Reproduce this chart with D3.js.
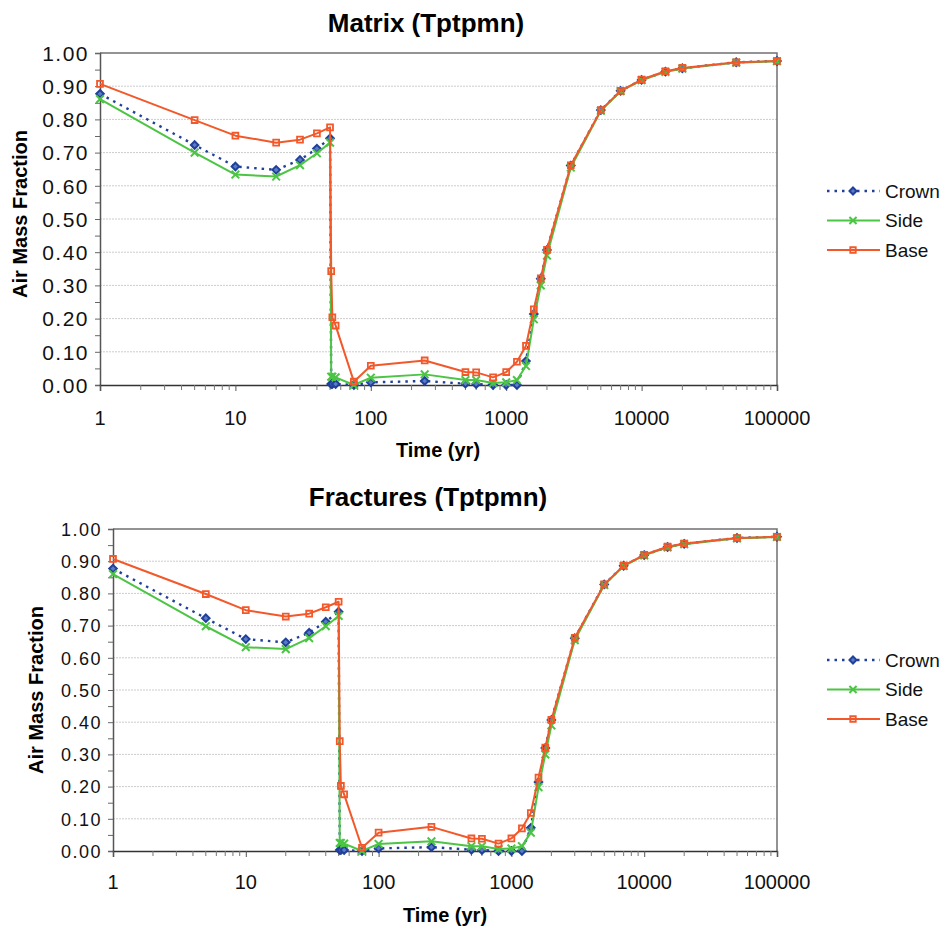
<!DOCTYPE html>
<html>
<head>
<meta charset="utf-8">
<script src="https://cdn.jsdelivr.net/npm/d3@7"></script>
<style>
  html, body { margin: 0; padding: 0; background: #fff; }
  svg { display: block; font-family: "Liberation Sans", Arial, Helvetica, sans-serif; }
</style>
</head>
<body>
<svg id="chart" width="952" height="933"></svg>
<script>
// Simulation output times (yr)
const times = [1, 5, 10, 20, 30, 40, 50, 51, 52, 55, 75, 100, 250, 500, 600, 800, 1000,
  1200, 1400, 1600, 1800, 2000, 3000, 5000, 7000, 10000, 15000, 20000, 50000, 100000];

// Air mass fraction in the matrix
const matrixCrown = [0.877, 0.723, 0.658, 0.648, 0.678, 0.712, 0.743, 0.003, 0.003, 0.003, 0.000, 0.008, 0.012,
  0.004, 0.003, 0.000, 0.000, 0.000, 0.072, 0.214, 0.320, 0.407, 0.661, 0.828, 0.886, 0.919, 0.944, 0.954, 0.972, 0.976];
const matrixSide = [0.861, 0.700, 0.634, 0.628, 0.662, 0.698, 0.730, 0.025, 0.025, 0.023, 0.000, 0.022, 0.032,
  0.015, 0.015, 0.006, 0.008, 0.015, 0.057, 0.198, 0.300, 0.390, 0.655, 0.826, 0.885, 0.918, 0.943, 0.953, 0.971, 0.975];
const matrixBase = [0.907, 0.798, 0.751, 0.730, 0.739, 0.758, 0.776, 0.343, 0.204, 0.179, 0.010, 0.058, 0.074,
  0.039, 0.038, 0.023, 0.039, 0.070, 0.118, 0.228, 0.321, 0.407, 0.662, 0.828, 0.886, 0.920, 0.945, 0.955, 0.972, 0.976];

// Air mass fraction in the fractures
const fractureCrown = [0.877, 0.723, 0.658, 0.648, 0.678, 0.712, 0.743, 0.003, 0.003, 0.003, 0.000, 0.008, 0.012,
  0.004, 0.003, 0.000, 0.000, 0.000, 0.072, 0.214, 0.320, 0.407, 0.661, 0.828, 0.886, 0.919, 0.944, 0.954, 0.972, 0.976];
const fractureSide = [0.860, 0.698, 0.633, 0.627, 0.661, 0.698, 0.730, 0.025, 0.025, 0.023, 0.000, 0.022, 0.030,
  0.015, 0.015, 0.006, 0.008, 0.015, 0.057, 0.198, 0.300, 0.390, 0.655, 0.826, 0.885, 0.918, 0.943, 0.953, 0.971, 0.975];
const fractureBase = [0.907, 0.798, 0.748, 0.728, 0.737, 0.757, 0.774, 0.341, 0.202, 0.176, 0.010, 0.057, 0.075,
  0.039, 0.038, 0.023, 0.039, 0.070, 0.118, 0.228, 0.321, 0.407, 0.662, 0.828, 0.886, 0.920, 0.945, 0.955, 0.972, 0.976];

const seriesNames = ["Crown", "Side", "Base"];
const yTicks = [0, 0.1, 0.2, 0.3, 0.4, 0.5, 0.6, 0.7, 0.8, 0.9, 1.0];
const xTicks = [1, 10, 100, 1000, 10000, 100000];
const xTickLabels = ["1", "10", "100", "1000", "10000", "100000"];
const xTitle = "Time (yr)";
const yTitle = "Air Mass Fraction";

const styles = {
  Crown: { color: "#20409a", dash: "2.5,5", width: 2.4 },
  Side:  { color: "#4cc444", dash: null, width: 2 },
  Base:  { color: "#f2582a", dash: null, width: 2 }
};

const panels = [
  { title: "Matrix (Tptpmn)", values: [matrixCrown, matrixSide, matrixBase],
    left: 100, right: 777, top: 53, bottom: 385, titleX: 426, titleY: 32,
    yFont: 21, xLabelY: 425, xTitleX: 438, xTitleY: 457, yTitleX: 27, yTitleY: 214, legendY: 191 },
  { title: "Fractures (Tptpmn)", values: [fractureCrown, fractureSide, fractureBase],
    left: 113, right: 777, top: 529, bottom: 851, titleX: 428, titleY: 506,
    yFont: 18, xLabelY: 889, xTitleX: 445, xTitleY: 922, yTitleX: 43, yTitleY: 690, legendY: 660 }
];

const svg = d3.select("#chart");

function drawMarker(g, name, x, y, size) {
  const st = styles[name];
  if (name === "Crown") {
    g.append("path")
      .attr("d", d3.symbol().type(d3.symbolDiamond2).size(size * 4.5)())
      .attr("transform", `translate(${x},${y})`)
      .attr("fill", "#5a7cc8").attr("stroke", st.color).attr("stroke-width", 2);
  } else if (name === "Side") {
    g.append("path")
      .attr("d", d3.symbol().type(d3.symbolTimes).size(size * 5)())
      .attr("transform", `translate(${x},${y})`)
      .attr("fill", "none").attr("stroke", st.color).attr("stroke-width", 2);
  } else {
    g.append("path")
      .attr("d", d3.symbol().type(d3.symbolSquare2).size(size * 5.5)())
      .attr("transform", `translate(${x},${y})`)
      .attr("fill", "none").attr("stroke", st.color).attr("stroke-width", 1.8);
  }
}

panels.forEach(p => {
  const x = d3.scaleLog().domain([1, 100000]).range([p.left, p.right]);
  const y = d3.scaleLinear().domain([0, 1]).range([p.bottom, p.top]);
  const g = svg.append("g");

  // title
  g.append("text").attr("x", p.titleX).attr("y", p.titleY)
    .attr("text-anchor", "middle").attr("font-size", 26).attr("font-weight", "bold")
    .text(p.title);

  // horizontal gridlines
  g.append("g").selectAll("line").data(yTicks.slice(1, -1)).join("line")
    .attr("x1", p.left).attr("x2", p.right)
    .attr("y1", d => y(d)).attr("y2", d => y(d))
    .attr("stroke", "#cccccc").attr("stroke-width", 1).attr("stroke-dasharray", "2,1");

  // plot frame (top and right)
  g.append("path")
    .attr("d", `M${p.left},${p.top}H${p.right}V${p.bottom}`)
    .attr("fill", "none").attr("stroke", "#707070").attr("stroke-width", 1.5);

  // y axis
  const yAxis = d3.axisLeft(y)
    .tickValues(d3.range(0, 1.0001, 0.05))
    .tickSize(5).tickPadding(6)
    .tickFormat(d => (Math.round(d * 100) % 10 === 0) ? d3.format(".2f")(d) : "");
  const ya = g.append("g").attr("transform", `translate(${p.left},0)`).call(yAxis);
  ya.select(".domain").attr("stroke", "#555").attr("stroke-width", 1.5);
  ya.selectAll(".tick line").attr("stroke", "#666");
  ya.selectAll(".tick text")
    .attr("font-size", p.yFont).attr("fill", "#111")
    .attr("letter-spacing", "1.5px")
    .attr("font-family", "\"Liberation Sans\", Arial, sans-serif")
    .attr("dy", "0.35em");

  // x axis: decade ticks plus minor ticks
  const minor = [];
  for (let e = 0; e < 5; e++) for (let k = 2; k <= 9; k++) minor.push(k * Math.pow(10, e));
  const xAxis = d3.axisBottom(x).tickValues(xTicks).tickSize(6).tickFormat("");
  const xa = g.append("g").attr("transform", `translate(0,${p.bottom})`).call(xAxis);
  xa.select(".domain").attr("stroke", "#333").attr("stroke-width", 1.5);
  xa.selectAll(".tick line").attr("stroke", "#555");
  g.append("g").selectAll("line").data(minor).join("line")
    .attr("x1", d => x(d)).attr("x2", d => x(d))
    .attr("y1", p.bottom).attr("y2", p.bottom + 5)
    .attr("stroke", "#777").attr("stroke-width", 1);

  g.append("g").selectAll("text").data(xTicks).join("text")
    .attr("x", d => x(d)).attr("y", p.xLabelY)
    .attr("text-anchor", "middle").attr("font-size", 20).attr("fill", "#111")
    .text((d, i) => xTickLabels[i]);

  // axis titles
  g.append("text").attr("x", p.xTitleX).attr("y", p.xTitleY)
    .attr("text-anchor", "middle").attr("font-size", 20).attr("font-weight", "bold")
    .text(xTitle);
  g.append("text")
    .attr("transform", `translate(${p.yTitleX},${p.yTitleY}) rotate(-90)`)
    .attr("text-anchor", "middle").attr("font-size", 20).attr("font-weight", "bold")
    .text(yTitle);

  // series
  const line = d3.line().x(d => x(d[0])).y(d => y(d[1]));
  seriesNames.forEach((name, si) => {
    const st = styles[name];
    const pts = times.map((t, i) => [t, p.values[si][i]]);
    const sg = g.append("g");
    sg.append("path").datum(pts).attr("d", line)
      .attr("fill", "none").attr("stroke", st.color).attr("stroke-width", st.width)
      .attr("stroke-dasharray", st.dash).attr("stroke-linejoin", "round");
    pts.forEach(d => drawMarker(sg, name, x(d[0]), y(d[1]), 8));
  });

  // legend
  const lg = g.append("g");
  seriesNames.forEach((name, i) => {
    const st = styles[name];
    const ly = p.legendY + i * 29.5;
    lg.append("line").attr("x1", 827).attr("x2", 880).attr("y1", ly).attr("y2", ly)
      .attr("stroke", st.color).attr("stroke-width", st.width).attr("stroke-dasharray", st.dash);
    drawMarker(lg, name, 853, ly, 7);
    lg.append("text").attr("x", 885).attr("y", ly).attr("dy", "0.35em")
      .attr("font-size", 19).attr("fill", "#111").text(name);
  });
});
</script>
</body>
</html>
